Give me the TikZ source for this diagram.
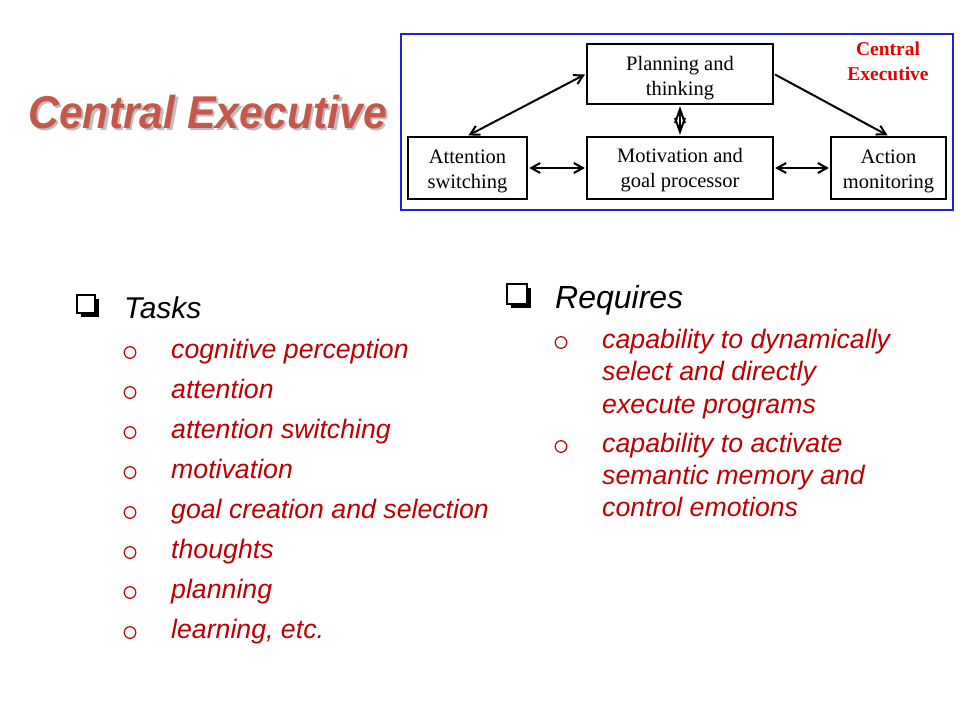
\documentclass[tikz,border=0pt]{standalone}
\usepackage{graphicx}
\usepackage{fontspec}
\setmainfont{Liberation Serif}
\newfontfamily\arialf{Liberation Sans}
\usetikzlibrary{arrows.meta}
\definecolor{titlered}{RGB}{196,89,75}
\definecolor{itemred}{RGB}{192,0,0}
\definecolor{cered}{RGB}{230,0,0}
\definecolor{frameblue}{RGB}{35,35,205}
\newcommand{\shadowtext}[1]{\rlap{\raisebox{-2.5pt}{\hspace{2.5pt}\textcolor{black!25}{#1}}}\textcolor{titlered}{#1}}
\begin{document}
\begin{tikzpicture}[x=1pt,y=-1pt,
  box/.style={draw=black,line width=2.3pt,inner sep=0pt},
  boxtext/.style={align=center,inner sep=0pt,font=\fontsize{20.5pt}{25pt}\selectfont},
  barb/.tip={Straight Barb[length=9pt,width=10pt,line width=2pt]},
  longbarb/.tip={Straight Barb[length=14pt,width=10pt,line width=2pt]},
  conn/.style={line width=2pt,shorten <=1pt,shorten >=1pt},
  item/.style={anchor=base west,inner sep=0pt,text=itemred,font=\arialf\itshape\fontsize{26.7pt}{32pt}\selectfont},
  head/.style={anchor=base west,inner sep=0pt,text=black,font=\arialf\itshape\fontsize{30pt}{34pt}\selectfont},
  bulletc/.style={draw=itemred,line width=1.2pt},
]
\useasboundingbox[fill=white] (0,0) rectangle (960,720);

% title with shadow
\node[anchor=base west,inner sep=0pt,font=\arialf\bfseries\itshape\fontsize{46pt}{46pt}\selectfont] (title) at (28,128) {\scalebox{0.93}[1]{\shadowtext{Central Executive}}};

% diagram frame
\node[draw=frameblue,line width=2.5pt,inner sep=0pt,minimum width=552pt,minimum height=176pt] (frame) at (677,122) {};
\node[anchor=base,inner sep=0pt,text=cered,font=\bfseries\fontsize{19.5pt}{25pt}\selectfont] (ce1) at (888,55) {Central};
\node[anchor=base,inner sep=0pt,text=cered,font=\bfseries\fontsize{19.5pt}{25pt}\selectfont] (ce2) at (888,80) {Executive};

% boxes
\node[box,minimum width=186pt,minimum height=60pt] (plan) at (680,74) {};
\node[box,minimum width=186pt,minimum height=62pt] (motiv) at (680,168) {};
\node[box,minimum width=119pt,minimum height=62pt] (att) at (467.5,168) {};
\node[box,minimum width=115pt,minimum height=62pt] (act) at (888.5,168) {};
\node[boxtext] (plantxt) at (680,78) {Planning and\\thinking};
\node[boxtext] (motivtxt) at (680,170) {Motivation and\\goal processor};
\node[boxtext] (atttxt) at (467.5,171) {Attention\\switching};
\node[boxtext] (acttxt) at (888.5,171) {Action\\monitoring};

% connectors
\draw[conn,barb-barb] (att.east) -- (motiv.west);
\draw[conn,barb-barb] (motiv.east) -- (act.west);
\draw[conn,longbarb-longbarb] (plan.south) -- (motiv.north);
\draw[conn,barb-barb] (plan.west) -- (att.north);
\draw[conn,-barb] (plan.east) -- (act.north);

% Tasks
\fill[black] (80.5,298.5) rectangle (99,317);
\draw[black,line width=2pt,fill=white] (77,295) rectangle (95,313);
\node[head] (tasks) at (124,318) {Tasks};
\foreach \t [count=\i] in {cognitive perception,attention,attention switching,motivation,goal creation and selection,thoughts,planning,{learning, etc.}} {
  \node[item] (task\i) at (171,318+40*\i) {\t};
  \draw[bulletc] (130,312.5+40*\i) circle[radius=5.8];
}

% Requires
\fill[black] (510.5,287.5) rectangle (530.5,307.5);
\draw[black,line width=2pt,fill=white] (507,284) rectangle (526.5,303.5);
\node[head,font=\arialf\itshape\fontsize{32pt}{36pt}\selectfont] (requires) at (555,308) {Requires};
\draw[bulletc] (561,342.5) circle[radius=5.8];
\node[item] (req1a) at (602,348) {capability to dynamically};
\node[item] (req1b) at (602,380.5) {select and directly};
\node[item] (req1c) at (602,413) {execute programs};
\draw[bulletc] (561,446.5) circle[radius=5.8];
\node[item] (req2a) at (602,452) {capability to activate};
\node[item] (req2b) at (602,484) {semantic memory and};
\node[item] (req2c) at (602,516) {control emotions};
\end{tikzpicture}
\end{document}
